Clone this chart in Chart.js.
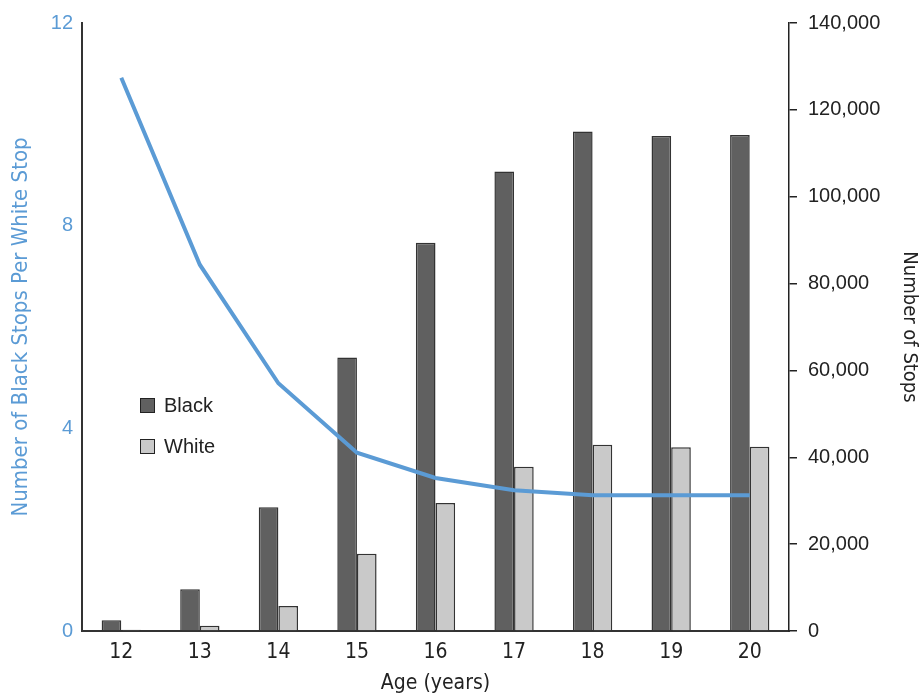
<!DOCTYPE html>
<html>
<head>
<meta charset="utf-8">
<script src="https://cdn.jsdelivr.net/npm/chart.js@4/dist/chart.umd.min.js"></script>
<style>
    html, body { margin: 0; padding: 0; background: #fff; }
    #wrap { position: relative; width: 921px; height: 696px; }
    .legend { position: absolute; left: 140px; font: 20px 'Liberation Sans', Arial, sans-serif; color: #222; }
    .legend span.box { position: absolute; left: 0; top: 4px; width: 13px; height: 13px; border: 1px solid #222; }
    .legend span.txt { position: absolute; left: 24px; top: 0; white-space: nowrap; }
</style>
</head>
<body>
<div id="wrap">
    <canvas id="chart" width="921" height="696"></canvas>
    <div class="legend" style="top:394px"><span class="box" style="background:#606060"></span><span class="txt">Black</span></div>
    <div class="legend" style="top:435px"><span class="box" style="background:#c9c9c9"></span><span class="txt">White</span></div>
</div>
<script>
// Datos
const ages = ['12', '13', '14', '15', '16', '17', '18', '19', '20'];
const blackStops = [2500, 9600, 28500, 63000, 89400, 105800, 115000, 114000, 114200];
const whiteStops = [300, 1200, 5750, 17800, 29500, 37800, 42900, 42300, 42450];
const ratio = [10.92, 7.23, 4.89, 3.52, 3.02, 2.78, 2.68, 2.68, 2.68];

const leftTicks = [0, 4, 8, 12];
const rightTicks = [0, 20000, 40000, 60000, 80000, 100000, 120000, 140000];

const narrow = "'Liberation Sans Narrow', 'DejaVu Sans Condensed', Arial, sans-serif";
const normal = "'Liberation Sans', Arial, sans-serif";
const blue = '#5b9bd5';
const ink = '#222';

const ctx = document.getElementById('chart');

new Chart(ctx, {
    data: {
        labels: ages,
        datasets: [
            {
                type: 'line',
                label: 'Ratio',
                data: ratio,
                yAxisID: 'yLeft',
                borderColor: blue,
                borderWidth: 4,
                pointRadius: 0,
                tension: 0,
                order: 0
            },
            {
                type: 'bar',
                label: 'Black',
                data: blackStops,
                yAxisID: 'yRight',
                backgroundColor: '#606060',
                borderColor: '#333',
                borderWidth: 1.5,
                barPercentage: 1,
                categoryPercentage: 0.5,
                order: 1
            },
            {
                type: 'bar',
                label: 'White',
                data: whiteStops,
                yAxisID: 'yRight',
                backgroundColor: '#c9c9c9',
                borderColor: '#333',
                borderWidth: 1.5,
                barPercentage: 1,
                categoryPercentage: 0.5,
                order: 1
            }
        ]
    },
    options: {
        responsive: false,
        animation: false,
        layout: { padding: { top: 22, left: 0, right: 0, bottom: 0 } },
        plugins: {
            legend: { display: false },
            tooltip: { enabled: false }
        },
        scales: {
            x: {
                grid: { display: false, drawTicks: false },
                border: { display: true, color: '#333', width: 2 },
                ticks: { color: ink, font: { family: narrow, size: 21 }, padding: 9 },
                title: {
                    display: true, text: 'Age (years)', color: ink,
                    font: { family: narrow, size: 21 }, padding: { top: 2, bottom: 0 }
                },
                afterFit: (scale) => { scale.height = 65; }
            },
            yLeft: {
                position: 'left',
                min: 0, max: 12,
                afterBuildTicks: (scale) => { scale.ticks = leftTicks.map(v => ({ value: v })); },
                grid: { display: false, drawTicks: false },
                border: { display: true, color: '#333', width: 2 },
                ticks: { color: blue, font: { family: normal, size: 20 }, padding: 9 },
                title: {
                    display: true, text: 'Number of Black Stops Per White Stop', color: blue,
                    font: { family: narrow, size: 22 }, padding: { top: 8, bottom: 0 }
                },
                afterFit: (scale) => { scale.width = 82; }
            },
            yRight: {
                position: 'right',
                min: 0, max: 140000,
                afterBuildTicks: (scale) => { scale.ticks = rightTicks.map(v => ({ value: v })); },
                grid: { drawOnChartArea: false, drawTicks: true, tickLength: 8, color: ink, lineWidth: 1.5 },
                border: { display: true, color: ink, width: 1.5 },
                ticks: {
                    color: ink, font: { family: normal, size: 20 }, padding: 11,
                    callback: (v) => v.toLocaleString('en-US')
                },
                title: {
                    display: true, text: 'Number of Stops', color: ink,
                    font: { family: narrow, size: 20 }, padding: { top: 0, bottom: 7 }
                },
                afterFit: (scale) => { scale.width = 132; }
            }
        }
    }
});
</script>
</body>
</html>
